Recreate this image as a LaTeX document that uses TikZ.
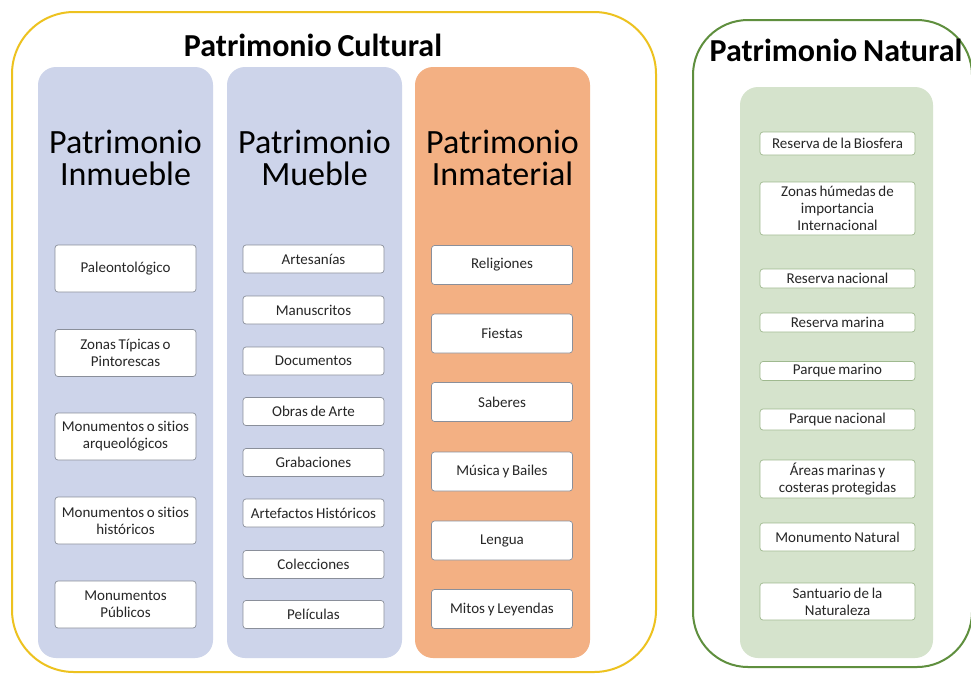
\documentclass[tikz,border=0pt]{standalone}
\usepackage{fontspec}
\setmainfont{Carlito}[WordSpace=0.8,Ligatures=NoCommon]
\usetikzlibrary{positioning}
\definecolor{culturalLine}{HTML}{EDC21F}
\definecolor{naturalLine}{HTML}{5F8F3E}
\definecolor{blueCol}{HTML}{CDD4EA}
\definecolor{orangeCol}{HTML}{F3B083}
\definecolor{greenCol}{HTML}{D5E3CC}
\definecolor{itemLine}{HTML}{8A8F9A}
\definecolor{greenItemLine}{HTML}{9FB98F}
\definecolor{itemText}{HTML}{262626}
\tikzset{
  colbox/.style={rounded corners=18pt, minimum width=175pt, minimum height=591pt, inner sep=0pt},
  header/.style={align=center, font=\fontsize{34}{32}\selectfont, text=black},
  bigtitle/.style={font=\fontsize{32}{34}\selectfont\bfseries, text=black},
  itembox/.style={draw=itemLine, fill=white, rounded corners=3pt, line width=0.7pt,
    minimum width=141pt, align=center, inner sep=1pt, text=itemText,
    font=\fontsize{15}{17}\selectfont},
  natbox/.style={itembox, draw=greenItemLine, minimum width=155pt}
}
\begin{document}
\begin{tikzpicture}[x=1pt,y=-1pt]
	\clip (0,0) rectangle (971,681);
	\fill [white] (0,0) rectangle (971,681);
	%Patrimonio Cultural
	\draw [culturalLine, line width=2pt, rounded corners=62pt] (12,12) rectangle (656,672);
	\node [bigtitle] (cultural) at (313,45) {Patrimonio Cultural};
	%Columns
	\node [colbox, fill=blueCol] (inmueble) at (125.5,362.5) {};
	\node [colbox, fill=blueCol] (mueble) at (314.5,362.5) {};
	\node [colbox, fill=orangeCol] (inmaterial) at (502.5,362.5) {};
	\node [header] (hinmueble) at (125.5,158) {Patrimonio\\Inmueble};
	\node [header] (hmueble) at (314.5,158) {Patrimonio\\Mueble};
	\node [header] (hinmaterial) at (502.5,158) {Patrimonio\\Inmaterial};
	%Inmueble
	\node [itembox, minimum height=47pt] (inm1) at (125.5,268.5) {Paleontológico};
	\node [itembox, minimum height=47pt] (inm2) at (125.5,353) {Zonas Típicas o\\Pintorescas};
	\node [itembox, minimum height=47pt] (inm3) at (125.5,436.5) {Monumentos o sitios\\arqueológicos};
	\node [itembox, minimum height=47pt] (inm4) at (125.5,520.5) {Monumentos o sitios\\históricos};
	\node [itembox, minimum height=47pt] (inm5) at (125.5,604.5) {Monumentos\\Públicos};
	%Mueble
	\node [itembox, minimum height=28pt] (mue1) at (313.5,259) {Artesanías};
	\node [itembox, minimum height=28pt] (mue2) at (313.5,310) {Manuscritos};
	\node [itembox, minimum height=28pt] (mue3) at (313.5,361) {Documentos};
	\node [itembox, minimum height=28pt] (mue4) at (313.5,411.5) {Obras de Arte};
	\node [itembox, minimum height=28pt] (mue5) at (313.5,462.5) {Grabaciones};
	\node [itembox, minimum height=28pt] (mue6) at (313.5,513) {Artefactos Históricos};
	\node [itembox, minimum height=28pt] (mue7) at (313.5,564.5) {Colecciones};
	\node [itembox, minimum height=28pt] (mue8) at (313.5,614.5) {Películas};
	%Inmaterial
	\node [itembox, minimum height=39pt] (inmat1) at (502,265) {Religiones};
	\node [itembox, minimum height=39pt] (inmat2) at (502,333.5) {Fiestas};
	\node [itembox, minimum height=39pt] (inmat3) at (502,402) {Saberes};
	\node [itembox, minimum height=39pt] (inmat4) at (502,471.5) {Música y Bailes};
	\node [itembox, minimum height=39pt] (inmat5) at (502,540.5) {Lengua};
	\node [itembox, minimum height=39pt] (inmat6) at (502,609) {Mitos y Leyendas};
	%Patrimonio Natural
	\draw [naturalLine, line width=2pt, rounded corners=55pt] (693,20) rectangle (972,667);
	\node [bigtitle] (natural) at (836,50) {Patrimonio Natural};
	\node [colbox, fill=greenCol, minimum width=193pt, minimum height=571pt] (naturalcol) at (836.5,372.5) {};
	\node [natbox, minimum height=23pt] (nat1) at (837.5,143.5) {Reserva de la Biosfera};
	\node [natbox, minimum height=53pt] (nat2) at (837.5,208.5) {Zonas húmedas de\\importancia\\Internacional};
	\node [natbox, minimum height=19pt] (nat3) at (837.5,278.5) {Reserva nacional};
	\node [natbox, minimum height=19pt] (nat4) at (837.5,322.5) {Reserva marina};
	\node [natbox, minimum height=19pt] (nat5) at (837.5,371) {Parque marino};
	\node [natbox, minimum height=21pt] (nat6) at (837.5,419.5) {Parque nacional};
	\node [natbox, minimum height=38pt] (nat7) at (837.5,479) {Áreas marinas y\\costeras protegidas};
	\node [natbox, minimum height=28pt] (nat8) at (837.5,537) {Monumento Natural};
	\node [natbox, minimum height=37pt] (nat9) at (837.5,601.5) {Santuario de la\\Naturaleza};
\end{tikzpicture}
\end{document}
